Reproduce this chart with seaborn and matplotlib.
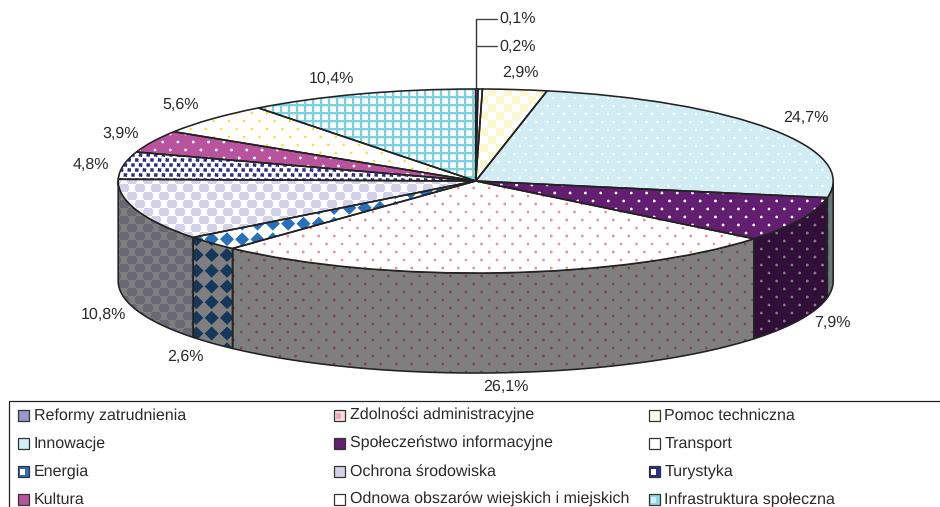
import numpy as np
import matplotlib
matplotlib.use('Agg')
import matplotlib.pyplot as plt
from matplotlib.patches import Polygon, Rectangle
from matplotlib.colors import to_rgb
import seaborn as sns

# values as printed on the chart, order = legend order (clockwise from 12 o'clock)
categories = ['Reformy zatrudnienia', 'Zdolności administracyjne', 'Pomoc techniczna',
              'Innowacje', 'Społeczeństwo informacyjne', 'Transport',
              'Energia', 'Ochrona środowiska', 'Turystyka',
              'Kultura', 'Odnowa obszarów wiejskich i miejskich', 'Infrastruktura społeczna']
values = [0.1, 0.2, 2.9, 24.7, 7.9, 26.1, 2.6, 10.8, 4.8, 3.9, 5.6, 10.4]

# label centres in pixels of the reference
label_px = [(517.5, 19), (517.5, 46.5), (520, 73), (806, 118), (832, 323), (506, 387),
            (185, 357), (103, 315), (91, 165), (121, 134), (181, 105), (331, 79)]

W, H = 940, 507
CX, CY = 475.7, 181.0   # pie centre
RX, RY = 357.5, 92.0    # ellipse radii
DEPTH = 100.0
DARK = '#222222'
TEXT = '#2a2a2a'

sns.set_theme(style='white')
plt.rcParams['font.family'] = ['Liberation Sans', 'DejaVu Sans']
plt.rcParams['font.size'] = 11.5
plt.rcParams['text.hinting'] = 'no_hinting'

# (background, pattern colour) per slice
bg = ['#ffffff', '#ffffff', '#ffffff', '#d2edf4', '#621f70', '#ffffff',
      '#ffffff', '#ffffff', '#ffffff', '#b9539d', '#ffffff', '#ffffff']
fg = ['#c0609c', '#f08a90', '#fbf7cf', '#ffffff', '#ffffff', '#f58f95',
      '#2a6fb9', '#d4d1e9', '#2e2d86', '#ffffff', '#f2e23c', '#7bd3e1']
palette = sns.color_palette(bg)

SS = 3
ys, xs = np.mgrid[0:H * SS, 0:W * SS]
X = (xs + 0.5) / SS
Y = (ys + 0.5) / SS


def lattice(px, py, x0=0.0, y0=0.0, stagger=True):
    # offset from the nearest point of a (staggered) lattice
    row = np.floor((Y - y0) / py + 0.5)
    dy = Y - y0 - row * py
    shift = (row % 2) * px / 2 if stagger else 0.0
    dx = (X - x0 - shift + px / 2) % px - px / 2
    return dx, dy


def dots(px, py, r, x0=0.0, y0=0.0):
    dx, dy = lattice(px, py, x0, y0)
    return dx ** 2 + dy ** 2 <= r ** 2


def checker(p):
    return (np.floor(X / p) + np.floor(Y / p)) % 2 == 0


def grid(p, w):
    return (X % p < w) | (Y % p < w)


def diamonds(px, py, r, x0, y0):
    dx, dy = lattice(px, py, x0, y0, stagger=False)
    return np.abs(dx) + np.abs(dy) <= r


def squares(px, py, s):
    # slightly skewed rows like the printed pattern
    dx, dy = lattice(px, py, 0, 0)
    return (np.abs(dx + 0.15 * dy) <= s / 2) & (np.abs(dy - 0.15 * dx) <= s / 2)


masks = [
    X % 6 < 3,
    dots(15.3, 8, 1.4, 2, 3),
    checker(8),
    dots(11.0, 8, 1.2, 3, 2),
    dots(15.3, 8, 1.4, 4, 1),
    dots(15.5, 8, 1.4, 1, 4),
    diamonds(15.3, 15.7, 7.0, 211.7, 255),
    checker(8) | dots(16, 8, 5.2, 4, 4),
    squares(7.6, 5.0, 3.5),
    dots(15.3, 8, 1.4, 2, 6),
    dots(15.3, 8, 1.3, 7, 1),
    grid(8, 2.2),
]


def texture(mask, back, front, shade=1.0):
    img = np.empty(mask.shape + (3,))
    img[:] = np.array(to_rgb(back)) * shade
    img[mask] = np.array(to_rgb(front)) * shade
    # box filter down to real pixels
    return img.reshape(H, SS, W, SS, 3).mean(axis=(1, 3))


fig, ax = plt.subplots(figsize=(W / 100, H / 100), dpi=100)
ax.set_position([0, 0, 1, 1])

wedges, _ = ax.pie(values, colors=palette, startangle=90, counterclock=False, radius=1,
                   wedgeprops=dict(edgecolor=DARK, linewidth=1.15))

xlim = ((0 - CX) / RX, (W - CX) / RX)
ylim = ((CY - H) / RY, CY / RY)
extent = (xlim[0], xlim[1], ylim[0], ylim[1])
depth = DEPTH / RY

# top face
for wedge, mask, b, f in zip(wedges, masks, bg, fg):
    im = ax.imshow(texture(mask, b, f), extent=extent, aspect='auto',
                   interpolation='nearest', zorder=2)
    im.set_clip_path(wedge)
    wedge.set_facecolor('none')
    wedge.set_zorder(3)

# rim, only the part facing the viewer (90..270 deg clockwise from the top)
ends = np.cumsum(values) / np.sum(values) * 360
starts = ends - np.array(values) / np.sum(values) * 360
for i in range(len(values)):
    lo, hi = max(starts[i], 90), min(ends[i], 270)
    if hi <= lo:
        continue
    th = np.radians(np.linspace(lo, hi, 120))
    px, py = np.sin(th), np.cos(th)
    pts = np.r_[np.c_[px, py], np.c_[px, py - depth][::-1]]
    outline = Polygon(pts, closed=True, facecolor='none', edgecolor=DARK,
                      linewidth=1.15, zorder=1.5)
    ax.add_patch(outline)
    im = ax.imshow(texture(masks[i], bg[i], fg[i], shade=0.5), extent=extent, aspect='auto',
                   interpolation='nearest', zorder=1)
    im.set_clip_path(outline)

# leader lines of the two thin slices
top_y = 1.0
ax.plot([0, 0], [(CY - 19) / RY, top_y], color='#333333', lw=1.0, zorder=4)
for ly in (19, 46):
    ax.plot([0, (497 - CX) / RX], [(CY - ly) / RY] * 2, color='#444444', lw=1.0, zorder=4)

ax.set_xlim(xlim)
ax.set_ylim(ylim)
ax.set_aspect('auto')
ax.axis('off')

# percent labels
for v, (lx, ly) in zip(values, label_px):
    fig.text(lx / W, 1 - ly / H, f'{v:.1f}%'.replace('.', ','), color=TEXT,
             ha='center', va='center', fontsize=11.5)

# legend box, open at the right and bottom of the image
fig.add_artist(Rectangle((8.5 / W, -0.1), 1, 0.1 + 1 - 400.5 / H, transform=fig.transFigure,
                         facecolor='none', edgecolor=DARK, lw=0.9))

legend_face = ['#9a97cc', '#f7dfe4', '#fdfbe8', '#d2edf4', '#621f70', '#ffffff',
               '#2a6fb9', '#d4d1e9', '#2e2d86', '#b9539d', '#ffffff', '#8fd8e4']
legend_inner = [None, '#f2a6b8', None, None, None, None,
                '#ffffff', None, '#ffffff', None, None, '#d2edf4']
col_x = [18, 334, 649]
row_y = [415.5, 443.5, 471.5, 499.5]
for i, name in enumerate(categories):
    r, c = divmod(i, 3)
    mx, my = col_x[c], row_y[r]
    fig.add_artist(Rectangle((mx / W, 1 - (my + 5.5) / H), 11 / W, 11 / H, transform=fig.transFigure,
                             facecolor=legend_face[i], edgecolor='#333333', lw=0.9))
    if legend_inner[i]:
        fig.add_artist(Rectangle(((mx + 2) / W, 1 - (my + 3) / H), 5 / W, 6 / H, transform=fig.transFigure,
                                 facecolor=legend_inner[i], edgecolor='none'))
    fig.text((mx + 15.5) / W, 1 - my / H, name, color=TEXT, ha='left', va='center', fontsize=11.5)

fig.savefig('out.png', dpi=100, facecolor='white')
